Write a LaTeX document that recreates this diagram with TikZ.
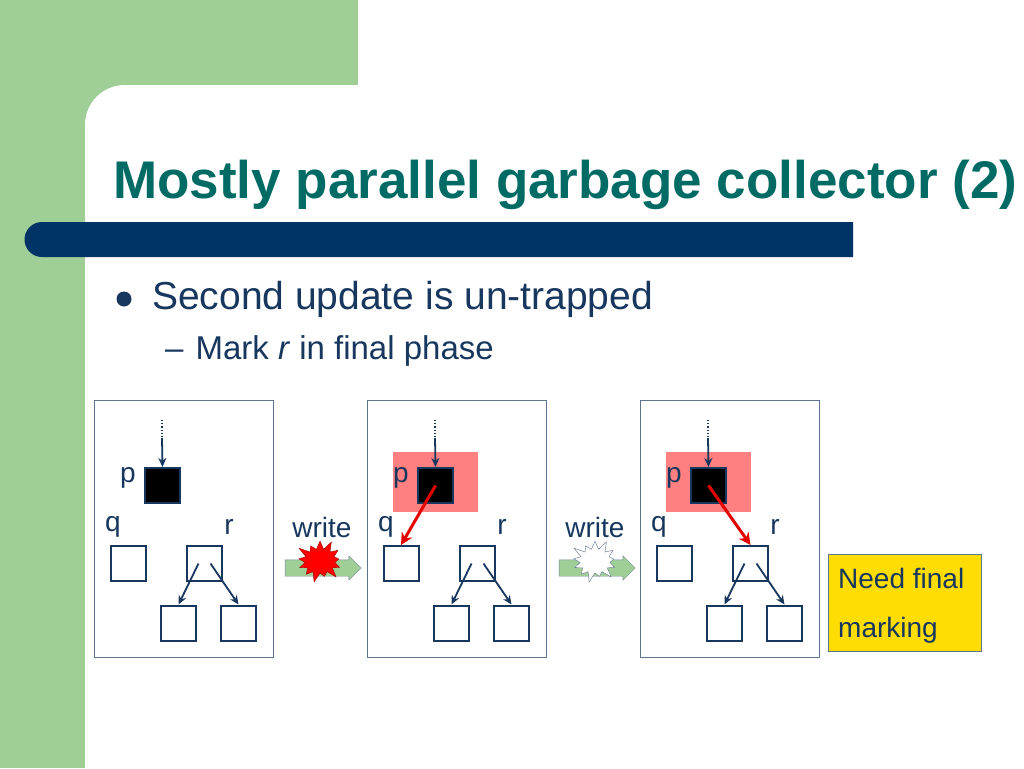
\documentclass[tikz,border=0pt]{standalone}
\usepackage{fontspec}
\setmainfont{Liberation Sans}
\usetikzlibrary{shapes.symbols,shapes.arrows,arrows.meta}
\definecolor{navy}{HTML}{17375E}
\definecolor{teal}{HTML}{006A64}
\definecolor{leaf}{HTML}{9FCE97}
\definecolor{bar}{HTML}{003366}
\definecolor{pinkred}{HTML}{FF8080}
\begin{document}
\begin{tikzpicture}[x=1pt,y=-1pt,
  panel/.style={draw=navy!70,line width=1pt},
  obj/.style={draw=navy,line width=2pt,minimum size=35pt,inner sep=0pt},
  lbl/.style={text=navy,font=\fontsize{28}{30}\selectfont,inner sep=0pt},
  ptr/.style={draw=navy,line width=1.8pt,-{Stealth[length=9pt,width=8pt]}},
  redptr/.style={draw=red!90!black,line width=3pt,-{Stealth[length=12pt,width=12pt]}},
  garrow/.style={single arrow,draw=navy!60,fill=leaf,inner ysep=8pt,inner xsep=0pt,single arrow head extend=4pt,minimum height=76pt}]
\useasboundingbox (0,0) rectangle (1024,768);
\fill[leaf] (0,0) rectangle (358,768);
\fill[white] (85,768) -- (85,125) arc[start angle=180,end angle=270,radius=40] -- (1024,85) -- (1024,768) -- cycle;
\fill[bar] (853,222) -- (42,222) arc[start angle=270,end angle=90,radius=17.5] -- (853,257) -- cycle;
\node[anchor=base west,text=teal,font=\bfseries\fontsize{53}{58}\selectfont,inner sep=0pt] (title) at (113,198) {Mostly parallel garbage collector (2)};
\node[circle,fill=navy,minimum size=15pt,inner sep=0pt] (b1) at (124,299) {};
\node[anchor=base west,text=navy,font=\fontsize{39}{42}\selectfont,inner sep=0pt] (t1) at (152,309) {Second update is un-trapped};
\node[anchor=base west,text=navy,font=\fontsize{33}{36}\selectfont,inner sep=0pt] (t2) at (165,359) {–\hspace{12pt}Mark \textit{r} in final phase};
\fill[pinkred] (393,452) rectangle (478,512);
\fill[pinkred] (666,452) rectangle (751,512);
\foreach \i/\ox in {1/0,2/273,3/546}{
  \begin{scope}[xshift=\ox]
  \draw[panel] (94,400) rectangle (273,657);
  \node[obj,fill=black] (p\i) at (162.5,485.5) {};
  \node[obj] (q\i) at (128,563.5) {};
  \node[obj] (r\i) at (204.5,563.5) {};
  \node[obj] (c\i) at (178.5,623) {};
  \node[obj] (d\i) at (238.5,623) {};
  \node[lbl] (lp\i) at (128,478) {p};
  \node[lbl] (lq\i) at (113,527) {q};
  \node[lbl] (lr\i) at (229,527) {r};
  \coordinate (top\i) at (162,420);
  \coordinate (mid\i) at (162,438);
  \draw[navy,line width=1.2pt,dotted] (top\i) -- (mid\i);
  \draw[ptr] (mid\i) -- (p\i.north);
  \draw[ptr] ([xshift=-6pt]r\i.center) -- (c\i.north);
  \draw[ptr] ([xshift=6pt]r\i.center) -- (d\i.north);
  \end{scope}}
\draw[redptr] (p2.center) -- (q2.north);
\draw[redptr] (p3.center) -- (r3.north);
\node[garrow] (w1) at (319,568) {};
\node[garrow] (w2) at (593,568) {};
\node[lbl] (wl1) at (322,527) {write};
\node[lbl] (wl2) at (595,527) {write};
\node[starburst,fill=red,draw=red!60!black,minimum width=52pt,minimum height=46pt,starburst points=13,starburst point height=11pt,inner sep=0pt] (s1) at (320,561) {};
\node[starburst,fill=white,draw=navy!70,minimum width=52pt,minimum height=46pt,starburst points=13,starburst point height=11pt,inner sep=0pt] (s2) at (595,561) {};
\node[draw=navy!70,fill=yellow!80!orange,minimum width=153pt,minimum height=97pt,anchor=north west,inner sep=0pt] (need) at (828,554) {};
\node[anchor=west,text=navy,font=\fontsize{28}{30}\selectfont,inner sep=0pt] (n1) at (838,578) {Need final};
\node[anchor=west,text=navy,font=\fontsize{28}{30}\selectfont,inner sep=0pt] (n2) at (838,630) {marking};
\end{tikzpicture}
\end{document}
